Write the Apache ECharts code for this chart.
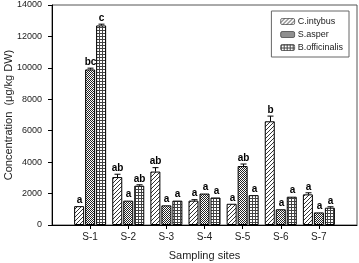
<!DOCTYPE html>
<html>
<head>
<meta charset="utf-8">
<script src="https://cdn.jsdelivr.net/npm/echarts@6/dist/echarts.min.js"></script>
<style>
  html, body { margin: 0; padding: 0; background: #fff; }
  #chart { width: 359px; height: 263px; }
</style>
</head>
<body>
<div id="chart"></div>
<script>
const sites = ['', 'S-1', 'S-2', 'S-3', 'S-4', 'S-5', 'S-6', 'S-7', ''];
const plants = ['C.intybus', 'S.asper', 'B.officinalis'];

// mean values per site (S-1 .. S-7)
const cIntybus = [1200, 3050, 3400, 1550, 1350, 6600, 1950];
const sAsper = [9900, 1550, 1250, 2000, 3750, 1000, 800];
const bOfficinalis = [12700, 2500, 1550, 1750, 1900, 1800, 1100];

// error bars
const cIntybusErr = [0, 180, 250, 60, 0, 330, 100];
const sAsperErr = [80, 0, 0, 0, 130, 0, 0];
const bOfficinalisErr = [80, 60, 0, 0, 0, 0, 60];

// significance letters
const cIntybusLetters = ['a', 'ab', 'ab', 'a', 'a', 'b', 'a'];
const sAsperLetters = ['bc', 'a', 'a', 'a', 'ab', 'a', 'a'];
const bOfficinalisLetters = ['c', 'ab', 'a', 'a', 'a', 'a', 'a'];

const yTicks = [0, 2000, 4000, 6000, 8000, 10000, 12000, 14000];

function makePattern(size, draw) {
  let c = document.createElement('canvas');
  c.width = size;
  c.height = size;
  let ctx = c.getContext('2d');
  ctx.fillStyle = '#ffffff';
  ctx.fillRect(0, 0, size, size);
  draw(ctx);
  return { image: c, repeat: 'repeat' };
}

const hatch = makePattern(4, (ctx) => {
  ctx.fillStyle = '#333';
  for (let i = 0; i < 4; i++) {
    ctx.fillRect(3 - i, i, 1, 1);
  }
});

const checker = makePattern(2, (ctx) => {
  ctx.fillStyle = '#222';
  ctx.fillRect(0, 0, 1, 1);
  ctx.fillRect(1, 1, 1, 1);
});

const gridPat = makePattern(3, (ctx) => {
  ctx.fillStyle = '#444';
  ctx.fillRect(0, 0, 3, 1);
  ctx.fillRect(0, 0, 1, 3);
});

const patterns = [hatch, checker, gridPat];
const values = [cIntybus, sAsper, bOfficinalis];
const errs = [cIntybusErr, sAsperErr, bOfficinalisErr];
const letters = [cIntybusLetters, sAsperLetters, bOfficinalisLetters];
const offsets = [-11, 0, 11];

function pad(arr) {
  return [null].concat(arr).concat([null]);
}

let series = [];
plants.forEach((name, k) => {
  series.push({
    name: name,
    type: 'bar',
    barWidth: 10,
    barGap: '10%',
    data: pad(values[k]),
    itemStyle: { color: patterns[k], borderColor: '#000', borderWidth: 1 }
  });
});

plants.forEach((name, k) => {
  series.push({
    type: 'custom',
    silent: true,
    z: 5,
    data: values[k].map((v, i) => [i + 1, v, errs[k][i], letters[k][i]]),
    renderItem: (params, api) => {
      let idx = api.value(0);
      let v = api.value(1);
      let e = api.value(2);
      let x = Math.round(api.coord([idx, 0])[0] + offsets[k]) + 0.5;
      let yv = api.coord([idx, v])[1];
      let yt = api.coord([idx, v + e])[1];
      let children = [];
      if (e > 0) {
        children.push({ type: 'line', shape: { x1: x, y1: yv, x2: x, y2: yt }, style: { stroke: '#000', lineWidth: 1 } });
        children.push({ type: 'line', shape: { x1: x - 3, y1: yt, x2: x + 3, y2: yt }, style: { stroke: '#000', lineWidth: 1 } });
      }
      children.push({
        type: 'text',
        x: x,
        y: yt - 1,
        style: {
          text: letters[k][params.dataIndex],
          fontFamily: 'Liberation Sans',
          fontWeight: 'bold',
          fontSize: 10,
          fill: '#000',
          align: 'center',
          verticalAlign: 'bottom'
        }
      });
      return { type: 'group', children: children };
    }
  });
});

let chart = echarts.init(document.getElementById('chart'));
chart.setOption({
  animation: false,
  textStyle: { fontFamily: 'Liberation Sans' },
  grid: {
    left: 52, right: 2, top: 5, bottom: 38,
    outerBoundsMode: 'none', containLabel: false,
    show: true, borderColor: '#555', borderWidth: 1
  },
  legend: {
    data: plants,
    orient: 'vertical',
    right: 10,
    top: 11,
    padding: [6, 6, 5, 9],
    itemWidth: 14,
    itemHeight: 6,
    itemGap: 4,
    borderColor: '#666',
    borderWidth: 1,
    textStyle: { fontSize: 9, color: '#222', padding: [0, 0, 0, -2] },
    itemStyle: { borderColor: '#000', borderWidth: 0.5 }
  },
  xAxis: {
    type: 'category',
    data: sites,
    boundaryGap: false,
    name: 'Sampling sites',
    nameLocation: 'middle',
    nameGap: 25,
    nameMoveOverlap: false,
    nameTextStyle: { fontSize: 11, color: '#222' },
    axisLine: { lineStyle: { color: '#000' } },
    axisTick: { length: 4, interval: (i, v) => v !== '', lineStyle: { color: '#000' } },
    axisLabel: { fontSize: 10, color: '#222', margin: 7, interval: 0 },
    splitLine: { show: false }
  },
  yAxis: {
    type: 'value',
    min: yTicks[0],
    max: yTicks[yTicks.length - 1],
    interval: 2000,
    name: 'Concentration  (\u03bcg/kg DW)',
    nameLocation: 'middle',
    nameGap: 38,
    nameMoveOverlap: false,
    nameTextStyle: { fontSize: 11, color: '#222' },
    axisLine: { show: true, lineStyle: { color: '#000' } },
    axisTick: { show: true, length: 4, lineStyle: { color: '#000' } },
    axisLabel: { fontSize: 9, color: '#222', margin: 10, formatter: (v) => String(v) },
    splitLine: { show: false }
  },
  series: series
});
</script>
</body>
</html>
